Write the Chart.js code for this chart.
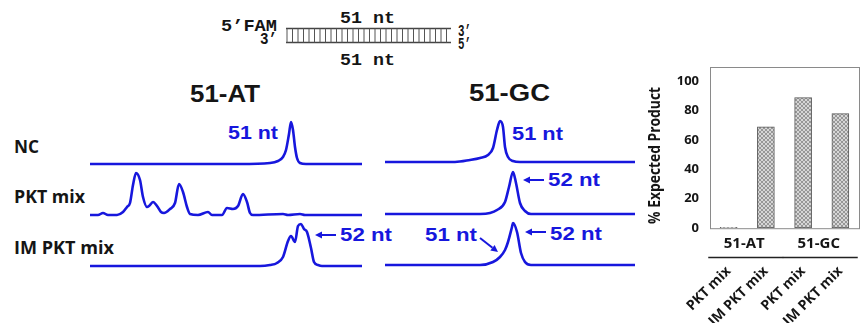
<!DOCTYPE html>
<html>
<head>
<meta charset="utf-8">
<script src="https://cdn.jsdelivr.net/npm/chart.js@4.4.1/dist/chart.umd.min.js"></script>
<style>
  html, body { margin: 0; padding: 0; background: #fff; }
  body { position: relative; width: 868px; height: 323px; overflow: hidden; }
  .box { position: absolute; }
  .txt { position: absolute; white-space: nowrap; line-height: 1; transform-origin: 0 50%; }
  #deco { position: absolute; left: 0; top: 0; }
</style>
</head>
<body>
<svg id="deco" width="868" height="323" xmlns="http://www.w3.org/2000/svg"></svg>
<script>
// ---------------------------------------------------------------------------
// Data
// ---------------------------------------------------------------------------

// capillary traces: [migration position, signal above baseline]
const atNC = [[0,0],[150,0],[180,1],[188,3],[193,7],[196,14],[199,30],[201,42],[203,34],[205,17],[207,6],[210,1],[216,0],[272,0]];
const atPKT = [[0,0],[8,0],[13,2],[18,0],[27,0],[33,3],[37,8],[40,12],[43,30],[46,42],[50,35],[53,18],[57,8],[59,9],[63,13],[67,9],[71,3],[74,2],[80,6],[85,12],[89,31],[93,23],[97,8],[100,1],[108,0],[118,3],[122,0],[132,0],[137,7],[143,6],[148,9],[153,21],[157,13],[160,2],[163,0],[193,1],[198,0],[210,1],[215,0],[272,0]];
const atIM = [[0,0],[170,0],[180,1],[187,3],[193,9],[198,25],[201,30],[205,24],[208,40],[211,42],[214,37],[217,34],[221,18],[224,4],[228,1],[232,0],[272,0]];

const gcNC = [[0,0],[70,0],[85,2],[95,4],[103,7],[108,14],[112,32],[115,41],[118,35],[120,15],[123,5],[128,1],[135,0],[250,0]];
const gcPKT = [[0,0],[95,0],[105,1],[112,4],[120,12],[124,27],[128,42],[131,31],[135,11],[140,3],[146,0],[250,0]];
const gcIM = [[0,0],[95,0],[108,3],[115,8],[120,15],[123,23],[127,38],[128,42],[132,33],[136,12],[140,3],[146,0],[250,0]];

// bar chart
const barLabels = ["PKT mix", "IM PKT mix", "PKT mix", "IM PKT mix"];
const barValues = [0.5, 69, 89, 78];
const barGroups = ["51-AT", "51-GC"];
const yTicks = [0, 20, 40, 60, 80, 100];
const yTitle = "% Expected Product";

const TRACE_COLOR = "#1717dd";
const INK = "#151515";
const SANS = "'Open Sans', sans-serif";

// ---------------------------------------------------------------------------
// Text + decoration helpers
// ---------------------------------------------------------------------------
function label(text, x, cy, w, font, color) {
  const d = document.createElement("div");
  d.className = "txt";
  d.textContent = text;
  d.style.font = font;
  d.style.color = color || INK;
  d.style.left = x + "px";
  d.style.top = cy + "px";
  document.body.appendChild(d);
  const natural = d.getBoundingClientRect().width;
  d.style.transform = `translateY(-50%) scaleX(${(w / natural).toFixed(3)})`;
}

const svg = document.getElementById("deco");
function svgEl(tag, attrs) {
  const el = document.createElementNS("http://www.w3.org/2000/svg", tag);
  for (const k in attrs) el.setAttribute(k, attrs[k]);
  svg.appendChild(el);
  return el;
}

function arrow(x1, y1, x2, y2) {
  // line from tail (x1,y1) to tip (x2,y2)
  const ang = Math.atan2(y2 - y1, x2 - x1);
  const hl = 7, hw = 3.5;
  const bx = x2 - hl * Math.cos(ang), by = y2 - hl * Math.sin(ang);
  svgEl("line", { x1, y1, x2: bx, y2: by, stroke: TRACE_COLOR, "stroke-width": 2 });
  const px = -Math.sin(ang) * hw, py = Math.cos(ang) * hw;
  svgEl("polygon", {
    points: `${x2},${y2} ${bx + px},${by + py} ${bx - px},${by - py}`,
    fill: TRACE_COLOR,
  });
}

// ---- duplex diagram ----
const MONO = "bold 17px 'Liberation Mono', monospace";
svgEl("line", { x1: 286, y1: 28.5, x2: 451, y2: 28.5, stroke: "#444", "stroke-width": 1.6 });
svgEl("line", { x1: 286, y1: 42.5, x2: 451, y2: 42.5, stroke: "#444", "stroke-width": 1.6 });
for (let x = 287; x <= 451; x += 5.5) {
  svgEl("line", { x1: x, y1: 28.5, x2: x, y2: 42.5, stroke: "#555", "stroke-width": 1 });
}
label("5\u2019FAM", 221, 26, 56, MONO);
label("3\u2019", 260, 38.5, 17, MONO);
label("51 nt", 340, 18, 55, MONO);
label("51 nt", 340, 60, 55, MONO);
label("3\u2019", 458, 31, 13, MONO);
label("5\u2019", 458, 44, 13, MONO);

// ---- panel titles & row labels ----
const TITLE = "bold 24px 'Liberation Sans', Arial, sans-serif";
label("51-AT", 190, 93.5, 70, TITLE);
label("51-GC", 469, 93, 81, TITLE);

const ROW = "bold 18px " + SANS;
label("NC", 14, 145.5, 25, ROW);
label("PKT mix", 14, 195.5, 71, ROW);
label("IM PKT mix", 14, 246.5, 100, ROW);

// ---- peak annotations ----
const NT = "bold 19px 'Liberation Sans', Arial, sans-serif";
label("51 nt", 228, 133, 50, NT, TRACE_COLOR);
label("52 nt", 340, 235, 52, NT, TRACE_COLOR);
label("51 nt", 512, 134, 51, NT, TRACE_COLOR);
label("52 nt", 548, 180, 52, NT, TRACE_COLOR);
label("52 nt", 550, 233.5, 52, NT, TRACE_COLOR);
label("51 nt", 425, 234.5, 52, NT, TRACE_COLOR);
arrow(336, 235, 315, 235);
arrow(544, 180, 523, 180);
arrow(546, 232, 525, 232);
arrow(480, 238, 498, 252);

// ---------------------------------------------------------------------------
// Electropherogram traces (one small chart per trace)
// ---------------------------------------------------------------------------
const traceRows = [
  { points: atNC, left: 90, width: 272, base: 164 },
  { points: atPKT, left: 90, width: 272, base: 215 },
  { points: atIM, left: 90, width: 272, base: 266 },
  { points: gcNC, left: 385, width: 250, base: 162 },
  { points: gcPKT, left: 385, width: 250, base: 214 },
  { points: gcIM, left: 385, width: 250, base: 265 },
];

traceRows.forEach((row) => {
  const wrap = document.createElement("div");
  wrap.className = "box";
  wrap.style.left = row.left + "px";
  wrap.style.top = row.base - 48 + "px";
  wrap.style.width = row.width + "px";
  wrap.style.height = "52px";
  const cv = document.createElement("canvas");
  wrap.appendChild(cv);
  document.body.appendChild(wrap);

  new Chart(cv, {
    type: "line",
    data: {
      datasets: [{
        data: row.points.map((p) => ({ x: p[0], y: p[1] })),
        borderColor: TRACE_COLOR,
        borderWidth: 2.6,
        pointRadius: 0,
        cubicInterpolationMode: "monotone",
        fill: false,
      }],
    },
    options: {
      animation: false,
      responsive: true,
      maintainAspectRatio: false,
      events: [],
      layout: { padding: 0 },
      plugins: { legend: { display: false }, tooltip: { enabled: false } },
      scales: {
        x: { type: "linear", min: 0, max: row.width, display: false },
        y: { min: -4, max: 48, display: false },
      },
    },
  });
});

// ---------------------------------------------------------------------------
// Bar chart: % expected product
// ---------------------------------------------------------------------------
const barWrap = document.createElement("div");
barWrap.className = "box";
Object.assign(barWrap.style, { left: "640px", top: "56px", width: "240px", height: "267px" });
const barCanvas = document.createElement("canvas");
barWrap.appendChild(barCanvas);
document.body.appendChild(barWrap);

function hatchPattern(ctx) {
  const c = document.createElement("canvas");
  c.width = 4; c.height = 4;
  const g = c.getContext("2d");
  g.fillStyle = "#d6d6d6";
  g.fillRect(0, 0, 4, 4);
  g.fillStyle = "#979797";
  for (let i = 0; i < 4; i++) {
    g.fillRect(i, i, 1, 1);
    g.fillRect(3 - i, i, 1, 1);
  }
  return ctx.createPattern(c, "repeat");
}

// box round the plot, group labels under the axis, condensed y title
const frameAndGroups = {
  id: "frameAndGroups",
  afterDraw(chart) {
    const { ctx, chartArea: a } = chart;
    const x = chart.scales.x;
    ctx.save();
    ctx.strokeStyle = "#8a8a8a";
    ctx.lineWidth = 1;
    ctx.strokeRect(Math.round(a.left) + 0.5, Math.round(a.top) + 0.5, a.right - a.left, a.bottom - a.top);

    ctx.font = "bold 15px " + SANS;
    ctx.fillStyle = INK;
    ctx.textAlign = "center";
    ctx.textBaseline = "middle";
    ctx.strokeStyle = "#222";
    ctx.lineWidth = 1.3;
    barGroups.forEach((g, i) => {
      const cx = (x.getPixelForValue(2 * i) + x.getPixelForValue(2 * i + 1)) / 2;
      ctx.fillText(g, cx - 3, a.bottom + 16);
      ctx.beginPath();
      ctx.moveTo(cx - 39, a.bottom + 29.5);
      ctx.lineTo(cx + 36, a.bottom + 29.5);
      ctx.stroke();
    });

    ctx.font = "bold 16px " + SANS;
    const len = ctx.measureText(yTitle).width;
    ctx.translate(a.left - 55, (a.top + a.bottom) / 2 + 8);
    ctx.rotate(-Math.PI / 2);
    ctx.scale(137 / len, 1);
    ctx.fillText(yTitle, 0, 0);
    ctx.restore();
  },
};

new Chart(barCanvas, {
  type: "bar",
  data: {
    labels: barLabels,
    datasets: [{
      data: barValues,
      backgroundColor: hatchPattern(barCanvas.getContext("2d")),
      borderColor: "#5a5a5a",
      borderWidth: 1,
      borderSkipped: false,
      barThickness: 17,
    }],
  },
  options: {
    animation: false,
    responsive: true,
    maintainAspectRatio: false,
    events: [],
    layout: { padding: { top: 10, right: 6, left: 0, bottom: 0 } },
    plugins: { legend: { display: false }, tooltip: { enabled: false } },
    scales: {
      x: {
        grid: { display: false },
        border: { display: false },
        ticks: {
          minRotation: 45,
          maxRotation: 45,
          padding: 27,
          color: INK,
          font: { family: "Open Sans", weight: "bold", size: 14 },
        },
        afterFit(s) { s.height = 95; },
      },
      y: {
        min: 0,
        max: 110,
        grid: { display: false },
        border: { display: false },
        afterBuildTicks(s) { s.ticks = yTicks.map((v) => ({ value: v })); },
        ticks: { color: INK, padding: 3, font: { family: "Open Sans", weight: "bold", size: 13 } },
        afterFit(s) { s.width = 70; },
      },
    },
  },
  plugins: [frameAndGroups],
});
</script>
</body>
</html>
